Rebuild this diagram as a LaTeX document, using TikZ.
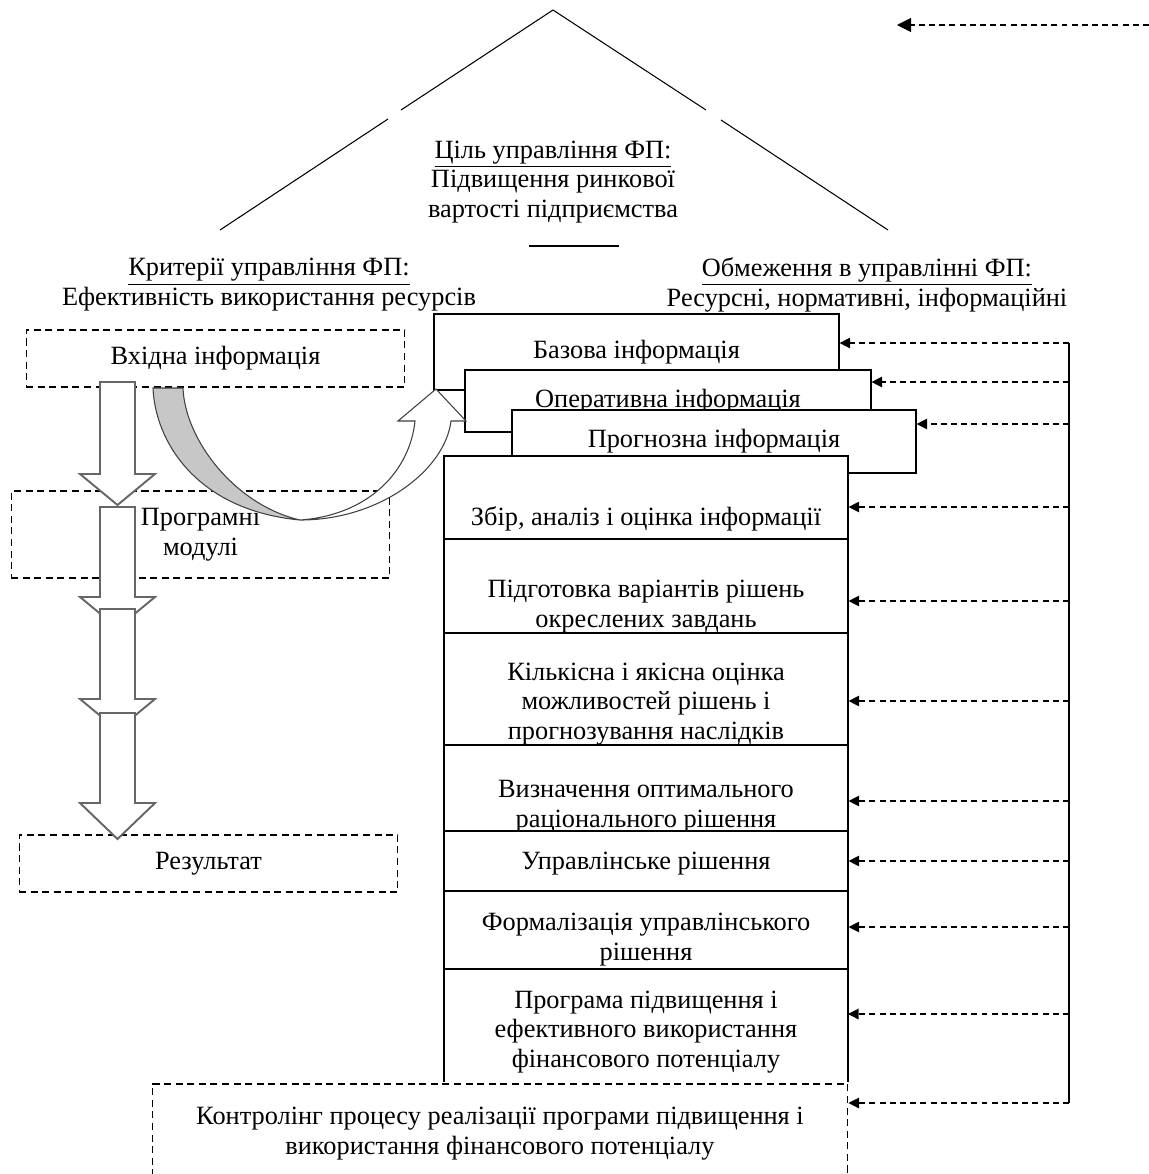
\documentclass[tikz,border=0pt]{standalone}
\usepackage{fontspec}
\setmainfont{Liberation Serif}
\usepackage{tikz}
\usetikzlibrary{arrows.meta}

\tikzset{
  fb/.style={dash pattern=on 3.4pt off 2.4pt, line width=0.6pt, -{Triangle[length=6pt,width=6pt]}},
  dbox/.style={draw, dash pattern=on 4pt off 2.6pt, line width=0.6pt, minimum width=7.58cm, align=center, inner sep=0pt},
  ibox/.style={draw, fill=white, line width=0.7pt, inner sep=0pt},
  cell/.style={draw, fill=white, line width=0.7pt, minimum width=8.08cm, inner sep=0pt},
  hollow/.style={draw=black!60, fill=white, line width=1.1pt, line join=miter},
  ribbon/.style={draw=black!75, line width=0.6pt},
}

\begin{document}
\begin{tikzpicture}[x=0.02cm, y=-0.02cm, font=\fontsize{15}{17}\selectfont]
\useasboundingbox (0,0) rectangle (1149,1174);

% pyramid and headings
\draw[line width=0.6pt] (553,10) -- (401,110) (388,119) -- (220,230);
\draw[line width=0.6pt] (553,10) -- (706,110) (721,120) -- (888,230);
\node[align=center] (goal) at (553,182) {\underline{Ціль управління ФП:}\\Підвищення ринкової\\вартості підприємства};
\draw[line width=0.8pt] (529,246) -- (619,246);
\node[align=center] (crit) at (269,285) {\underline{Критерії управління ФП:}\\Ефективність використання ресурсів};
\node[align=center] (lim) at (867,285) {\underline{Обмеження в управлінні ФП:}\\Ресурсні, нормативні, інформаційні};

\coordinate (src) at (1149,25);
\coordinate (dst) at (897,25);
\draw[fb, -{Triangle[length=8pt,width=8pt]}] (src) -- (dst);

% left column
\node[dbox, minimum height=1.14cm] (inbox) at (215.5,358.5) {Вхідна інформація};
\node[dbox, minimum height=1.74cm] (progbox) at (200.5,534.5) {Програмні\\модулі};
\node[dbox, minimum height=1.14cm] (resbox) at (208.5,863.5) {Результат};

\foreach \t/\b/\e in {382/474/505,507/597/628,609/699/730,713/803/839}
  \draw[hollow] (100,\t) -- (135,\t) -- (135,\b) -- (155,\b) -- (117.5,\e) -- (80,\b) -- (100,\b) -- cycle;

% information layers
\node[ibox, minimum width=8.1cm, minimum height=1.52cm] (base) at (636.5,352) {Базова інформація};
\node[ibox, minimum width=8.12cm, minimum height=1.24cm] (oper) at (668,401) {Оперативна інформація};
\node[ibox, minimum width=8.08cm, minimum height=1.26cm] (fcst) at (714,441.5) {Прогнозна інформація};

% decision stages
\node[cell, minimum height=1.66cm, label={[align=center,yshift=-0.43cm]center:{Збір, аналіз і оцінка інформації}}] (collect) at (646,497.5) {};
\node[cell, minimum height=1.88cm, label={[align=center,yshift=-0.42cm]center:{Підготовка варіантів рішень\\окреслених завдань}}] (prepare) at (646,586) {};
\node[cell, minimum height=2.24cm, label={[align=center,yshift=-0.3cm]center:{Кількісна і якісна оцінка\\можливостей рішень і\\прогнозування наслідків}}] (assess) at (646,689) {};
\node[cell, minimum height=1.72cm, label={[align=center,yshift=-0.37cm]center:{Визначення оптимального\\раціонального рішення}}] (optimum) at (646,788) {};
\node[cell, minimum height=1.2cm, label={[yshift=-0.06cm]center:{Управлінське рішення}}] (decision) at (646,861) {};
\node[cell, minimum height=1.56cm, label={[align=center,yshift=-0.2cm]center:{Формалізація управлінського\\рішення}}] (formal) at (646,930) {};
\node[cell, draw=none, outer sep=0pt, minimum height=2.26cm, label={[align=center,yshift=-0.13cm]center:{Програма підвищення і\\ефективного використання\\фінансового потенціалу}}] (program) at (646,1025.5) {};
\draw[line width=0.7pt] (program.south west) -- (program.north west) -- (program.north east) -- (program.south east);

\node[dbox, fill=white, minimum width=13.92cm, minimum height=2cm] (ctrl) at (500,1134) {Контролінг процесу реалізації програми підвищення і\\використання фінансового потенціалу};

% curved arrow
\draw[ribbon, fill=black!22] (153,388) .. controls (155,440) and (195,510) .. (300,520) .. controls (235,505) and (185,440) .. (183,388) -- cycle;
\draw[ribbon, fill=white] (300,520) .. controls (380,520) and (445,470) .. (451,421) -- (466,421) -- (436,389) -- (398,421) -- (415,421) .. controls (410,470) and (370,515) .. (300,520) -- cycle;

% feedback
\coordinate (bt) at (1069,343);
\coordinate (bb) at (1069,1103);
\draw[line width=0.7pt] (bt) -- (bb);
\foreach \y/\n in {343/base,382/oper,424/fcst,507/collect,601/prepare,701/assess,801/optimum,861/decision,927/formal,1014/program,1103/ctrl}{
  \coordinate (f\n) at (1069,\y);
  \draw[fb] (f\n) -- (f\n -| \n.east);
}
\end{tikzpicture}
\end{document}
